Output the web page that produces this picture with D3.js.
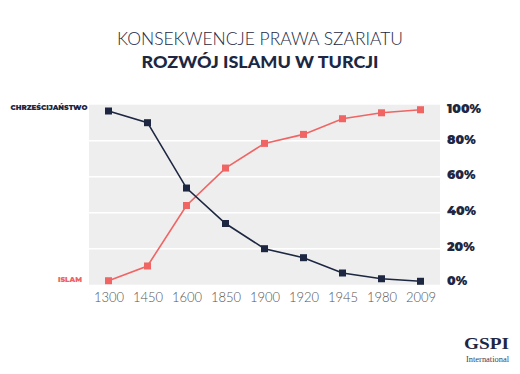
<!DOCTYPE html>
<html><head><meta charset="utf-8">
<script src="https://cdn.jsdelivr.net/npm/d3@7"></script>
<style>body{margin:0;background:#fff}svg{display:block}</style>
</head><body><svg id="c" width="520" height="374"></svg>
<script>
const years = ["1300","1450","1600","1850","1900","1920","1945","1980","2009"];
const christianity = [96.5, 90, 53.7, 34, 20, 15, 6.5, 3.3, 1.9];
const islam = [2.2, 10.4, 44, 64.8, 78.5, 83.5, 92.2, 95.5, 97.2];
const yTicks = [0, 20, 40, 60, 80, 100];
const titleLine1 = "KONSEKWENCJE PRAWA SZARIATU";
const titleLine2 = "ROZWÓJ ISLAMU W TURCJI";
const seriesNames = ["CHRZEŚCIJAŃSTWO", "ISLAM"];

const navy = "#1d2742", red = "#f06464";
const svg = d3.select("#c");
const L = 89, R = 440, T = 104.7, B = 284.7;
const x = d3.scalePoint().domain(years).range([L, R]).padding(0.5);
const y = d3.scaleLinear().domain([0, 100]).range([B, T]);

svg.append("rect").attr("x", L).attr("y", T).attr("width", R - L).attr("height", B - T).attr("fill", "#eeeeee");
svg.append("g").selectAll("line").data(yTicks.filter(d => d > 0 && d < 100)).join("line")
  .attr("x1", L).attr("x2", R).attr("y1", d => y(d)).attr("y2", d => y(d))
  .attr("stroke", "#fff").attr("stroke-width", 1.5);

// right axis labels
const yAxis = d3.axisRight(y).tickValues(yTicks).tickSize(0).tickPadding(0).tickFormat(d => d + "%");
const ga = svg.append("g").attr("transform", `translate(447,0)`).call(yAxis);
ga.select(".domain").remove();
ga.selectAll("text").attr("font-family", "Montserrat, Lato, sans-serif").attr("font-weight", 900)
  .attr("font-size", 12.5).attr("fill", navy)
  .attr("dy", (d) => d === 100 ? "0.9em" : d === 0 ? "0.05em" : "0.32em");
ga.selectAll("text").attr("transform", d => `translate(0,${d===100?-3.5:d===0?-1:(d===80?-1.5:(d===60?-2.5:(d===40?-2:-2.5)))})`);

// x axis labels
const xAxis = d3.axisBottom(x).tickSize(0).tickPadding(0);
const gx = svg.append("g").attr("transform", `translate(0,${B})`).call(xAxis);
gx.select(".domain").remove();
gx.selectAll("text").attr("font-family", "Lato, sans-serif").attr("font-weight", 300)
  .attr("font-size", 13).attr("fill", "#555").attr("dy", "1.35em");

const line = d3.line().x((d, i) => x(years[i])).y(d => y(d));
function drawSeries(vals, color) {
  svg.append("path").datum(vals).attr("d", line).attr("fill", "none").attr("stroke", color).attr("stroke-width", 1.6);
  svg.append("g").selectAll("rect").data(vals).join("rect")
    .attr("x", (d, i) => x(years[i]) - 3.5).attr("y", d => y(d) - 3.5)
    .attr("width", 7).attr("height", 7).attr("fill", color);
}
drawSeries(islam, red);
drawSeries(christianity, navy);

svg.append("text").attr("x", 87.5).attr("y", 110).attr("text-anchor", "end")
  .attr("font-family", "Montserrat, Lato, sans-serif").attr("font-weight", 900).attr("font-size", 7.6)
  .attr("fill", navy).attr("textLength", 77).attr("lengthAdjust", "spacingAndGlyphs").text(seriesNames[0]);
svg.append("text").attr("x", 82).attr("y", 282).attr("text-anchor", "end")
  .attr("font-family", "Montserrat, Lato, sans-serif").attr("font-weight", 900).attr("font-size", 7.6)
  .attr("fill", red).attr("textLength", 24).attr("lengthAdjust", "spacingAndGlyphs").text(seriesNames[1]);

svg.append("text").attr("x", 260).attr("y", 45).attr("text-anchor", "middle")
  .attr("font-family", "Lato, sans-serif").attr("font-weight", 300).attr("font-size", 17.5)
  .attr("fill", navy).attr("textLength", 286).attr("lengthAdjust", "spacingAndGlyphs").text(titleLine1);
svg.append("text").attr("x", 260).attr("y", 68).attr("text-anchor", "middle")
  .attr("font-family", "Lato, sans-serif").attr("font-weight", 900).attr("font-size", 17.5)
  .attr("fill", navy).attr("textLength", 237).attr("lengthAdjust", "spacingAndGlyphs").text(titleLine2);

// logo
svg.append("text").attr("x", 509).attr("y", 349).attr("text-anchor", "end")
  .attr("font-family", "Liberation Serif, serif").attr("font-weight", 700).attr("font-size", 16)
  .attr("fill", navy).attr("textLength", 45).attr("lengthAdjust", "spacingAndGlyphs").text("GSPI");
svg.append("text").attr("x", 509).attr("y", 362).attr("text-anchor", "end")
  .attr("font-family", "Liberation Serif, serif").attr("font-size", 9)
  .attr("fill", "#3a4255").attr("textLength", 43).attr("lengthAdjust", "spacingAndGlyphs").text("International");
</script></body></html>
